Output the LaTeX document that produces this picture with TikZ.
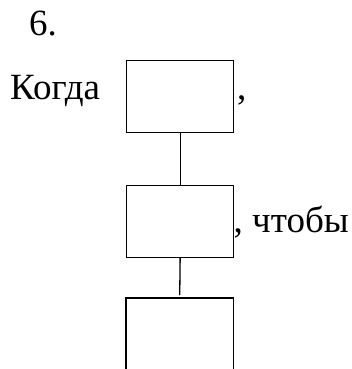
\documentclass[tikz,border=0pt]{standalone}
\usepackage{fontspec}
\setmainfont{Liberation Serif}
\begin{document}
\begin{tikzpicture}[x=1pt,y=-1pt,
  txt/.style={inner sep=0pt,anchor=base west,font=\fontsize{37}{40}\selectfont},
  boxn/.style={draw,line width=1.3pt,minimum width=107pt,minimum height=72pt,inner sep=0pt,anchor=north west},
  openbox/.style={minimum width=107pt,minimum height=71pt,inner sep=0pt,anchor=north west},
  conn/.style={line width=1.3pt}]
\useasboundingbox (0,0) rectangle (351,369);
\node[txt] (num) at (29,36) {6.};
\node[txt] (kogda) at (10,99.5) {Когда};
\node[boxn] (b1) at (126,60) {};
\node[txt] (c1) at (237,99.5) {,};
\node[boxn] (b2) at (126,184.5) {};
\node[txt] (c2) at (233.5,232.7) {, чтобы};
\node[openbox] (b3) at (126,298) {};
\draw[conn] (b1.south) -- (b2.north);
\draw[conn,shorten >=2.8pt] (b2.south) -- (b3.north);
\draw[line width=1.3pt] (b3.south west) -- (b3.north west) -- (b3.north east) -- (b3.south east);
\end{tikzpicture}
\end{document}
